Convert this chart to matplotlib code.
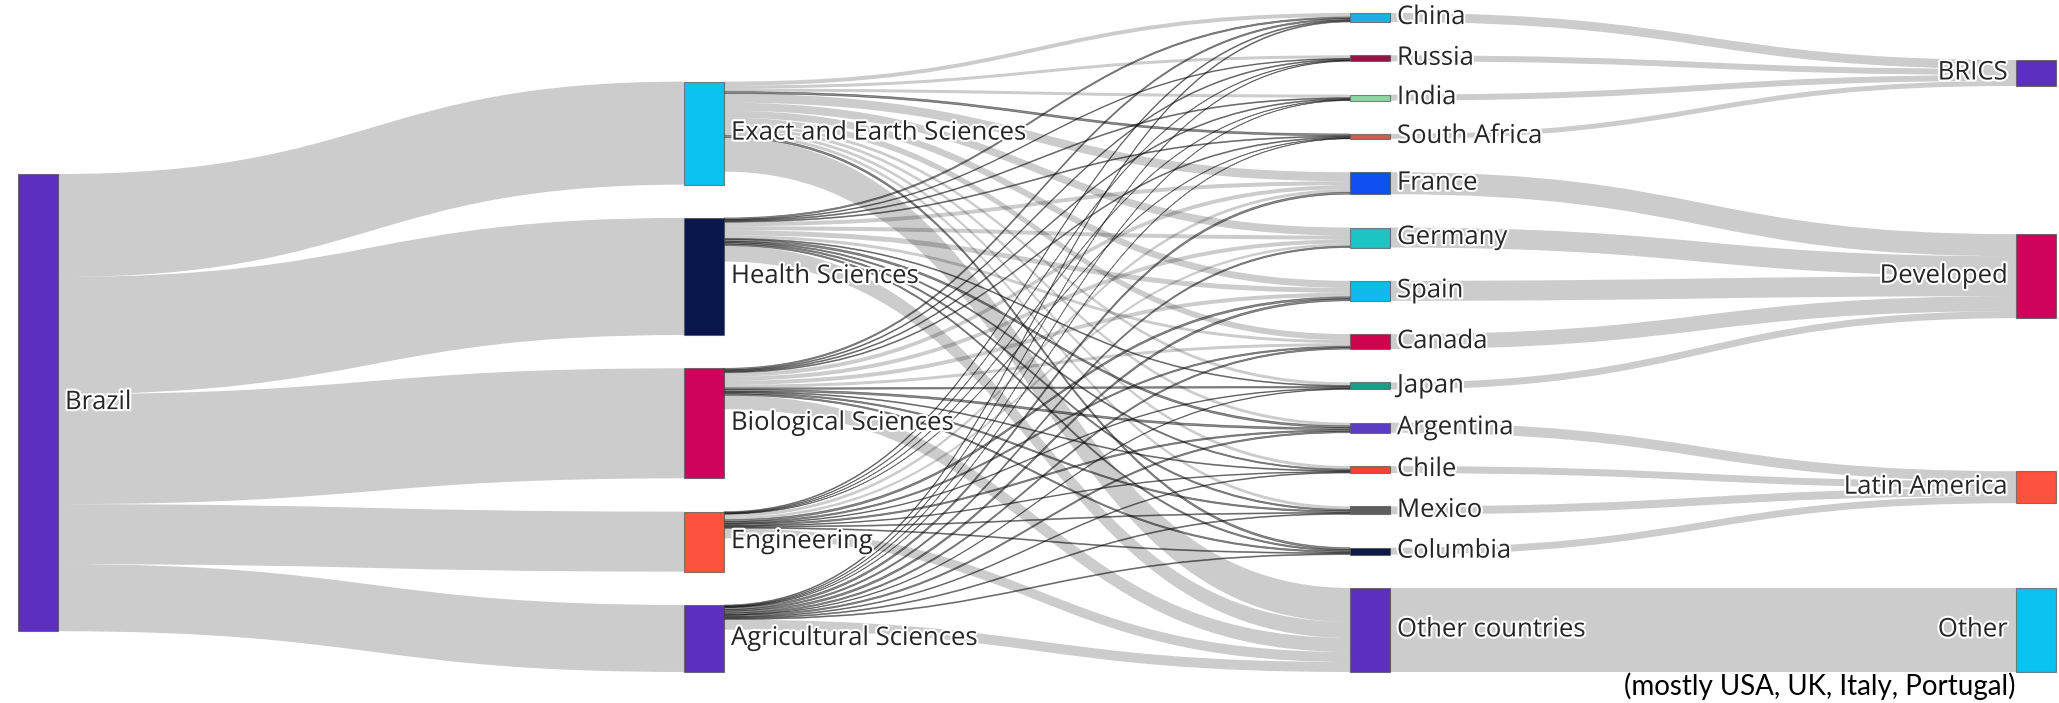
import matplotlib
matplotlib.use("Agg")
import matplotlib.pyplot as plt
from matplotlib.path import Path
from matplotlib.patches import PathPatch, Rectangle
import matplotlib.patheffects as pe

## datos del diagrama
origin = ["Brazil"]
disciplines = ["Exact and Earth Sciences", "Health Sciences", "Biological Sciences",
               "Engineering", "Agricultural Sciences"]
countries = ["China", "Russia", "India", "South Africa", "France", "Germany", "Spain",
             "Canada", "Japan", "Argentina", "Chile", "Mexico", "Columbia", "Other countries"]
groups = ["BRICS", "Developed", "Latin America", "Other"]

brazil_flows = [103, 117, 110, 60, 67]

# disciplina -> pais (mismo orden que countries)
exact_flows = [4, 3, 3, 2, 9, 8, 7, 6, 3, 3, 3, 3, 2, 34]
health_flows = [1.5, 0.8, 1, 1, 4, 4, 5, 3, 1, 2, 1.3, 1.5, 1.5, 16]
bio_flows = [1.5, 1, 1, 1, 4, 4, 4, 3, 1.5, 2, 1, 1.5, 1.5, 14]
eng_flows = [1, 0.6, 0.5, 0.5, 3, 2.5, 2, 1.5, 0.8, 1.5, 0.8, 1, 1, 10]
agri_flows = [1, 0.6, 0.5, 0.5, 2, 1.5, 2, 1.5, 0.7, 1.5, 0.9, 1, 1, 10]

country_group = ["BRICS"] * 4 + ["Developed"] * 5 + ["Latin America"] * 4 + ["Other"]

origin_colors = ["#5d2fc1"]
discipline_colors = ["#0bc2ef", "#0a174c", "#d0035c", "#fd523d", "#5d2fc1"]
country_colors = ["#1fb0dc", "#901848", "#8ed6a2", "#cc5e4e", "#0d4ff0", "#1cc4c2",
                  "#0fbbe9", "#d0034e", "#1f9c88", "#5b3dc2", "#f24333", "#5e5e5e",
                  "#0b1a44", "#5d2fc1"]
group_colors = ["#5d2fc1", "#d0035c", "#fd523d", "#0bc2ef"]

note = "(mostly USA, UK, Italy, Portugal)"

## construir nodos y enlaces
names = origin + disciplines + countries + groups
colors = origin_colors + discipline_colors + country_colors + group_colors
cols = [0] * len(origin) + [1] * len(disciplines) + [2] * len(countries) + [3] * len(groups)
idx = {n: i for i, n in enumerate(names)}
rows = [exact_flows, health_flows, bio_flows, eng_flows, agri_flows]

links = []
for d, v in zip(disciplines, brazil_flows):
    links.append((idx["Brazil"], idx[d], v))
for d, row in zip(disciplines, rows):
    for c, v in zip(countries, row):
        links.append((idx[d], idx[c], v))
for j, (c, g) in enumerate(zip(countries, country_group)):
    links.append((idx[c], idx[g], sum(r[j] for r in rows)))

n = len(names)
v_in = [0.0] * n
v_out = [0.0] * n
for s, t, v in links:
    v_out[s] += v
    v_in[t] += v
value = [max(a, b) for a, b in zip(v_in, v_out)]

## disposicion (pixeles)
W, H = 2059, 703
top, bottom = 13, 672
left, right = 18, 2056
nw = 40
pad = 33.3
step = (right - left - nw) / 3

members = {c: [i for i in range(n) if cols[i] == c] for c in range(4)}
k = min((bottom - top - pad * (len(m) - 1)) / sum(value[i] for i in m) for m in members.values())
hgt = [v * k for v in value]
y0 = [0.0] * n

y = top
for i in members[2]:
    y0[i] = y
    y += hgt[i] + pad
y = bottom - (sum(hgt[i] for i in members[1]) + pad * (len(members[1]) - 1))
for i in members[1]:
    y0[i] = y
    y += hgt[i] + pad

def center(i):
    return y0[i] + hgt[i] / 2

# nodos de los extremos: centro en la media ponderada de sus vecinos
for c, expo in ((0, 0.0), (3, 0.5)):
    for i in members[c]:
        nb = [(t, v) for s, t, v in links if s == i] + [(s, v) for s, t, v in links if t == i]
        cy = sum(center(j) * v ** expo for j, v in nb) / sum(v ** expo for j, v in nb)
        y0[i] = min(max(cy - hgt[i] / 2, top), bottom - hgt[i])

xl = [left + cols[i] * step for i in range(n)]

## posicion de cada enlace dentro de los nodos
src_off = {}
tgt_off = {}
for i in range(n):
    outs = sorted([l for l in links if l[0] == i], key=lambda l: y0[l[1]])
    yy = y0[i]
    for l in outs:
        src_off[l] = yy
        yy += l[2] * k
    ins = sorted([l for l in links if l[1] == i], key=lambda l: y0[l[0]])
    yy = y0[i]
    for l in ins:
        tgt_off[l] = yy
        yy += l[2] * k

fig = plt.figure(figsize=(W / 100, H / 100), dpi=100)
ax = fig.add_axes([0, 0, 1, 1])
ax.set_xlim(0, W)
ax.set_ylim(H, 0)
ax.axis("off")

for l in links:
    s, t, v = l
    w = v * k
    xa = xl[s] + nw
    xb = xl[t]
    xm = (xa + xb) / 2
    ya = src_off[l]
    yb = tgt_off[l]
    verts = [(xa, ya), (xm, ya), (xm, yb), (xb, yb),
             (xb, yb + w), (xm, yb + w), (xm, ya + w), (xa, ya + w), (xa, ya)]
    codes = [Path.MOVETO, Path.CURVE4, Path.CURVE4, Path.CURVE4,
             Path.LINETO, Path.CURVE4, Path.CURVE4, Path.CURVE4, Path.CLOSEPOLY]
    if v < 2.5:
        fc = (0, 0, 0, 0.45)
        ax.add_patch(PathPatch(Path(verts, codes), fc=fc, ec=fc, lw=0.5, zorder=1))
    else:
        ax.add_patch(PathPatch(Path(verts, codes), fc=(0, 0, 0, 0.2), ec="none", zorder=1))

halo = [pe.withStroke(linewidth=3, foreground="white")]
for i in range(n):
    ax.add_patch(Rectangle((xl[i], y0[i]), nw, hgt[i], fc=colors[i],
                           ec=(0.25, 0.25, 0.25, 0.6), lw=0.8, zorder=2))
    if cols[i] == 3:
        ax.text(xl[i] - 8, center(i), names[i], ha="right", va="center",
                fontsize=18.5, family="Open Sans", color="#262626",
                path_effects=halo, zorder=3)
    else:
        ax.text(xl[i] + nw + 7, center(i), names[i], ha="left", va="center",
                fontsize=18.5, family="Open Sans", color="#262626",
                path_effects=halo, zorder=3)

ax.text(xl[idx["Other"]], 686, note, ha="right", va="center",
        fontsize=20, family="Lato", color="black")

fig.savefig("out.png", dpi=100)
